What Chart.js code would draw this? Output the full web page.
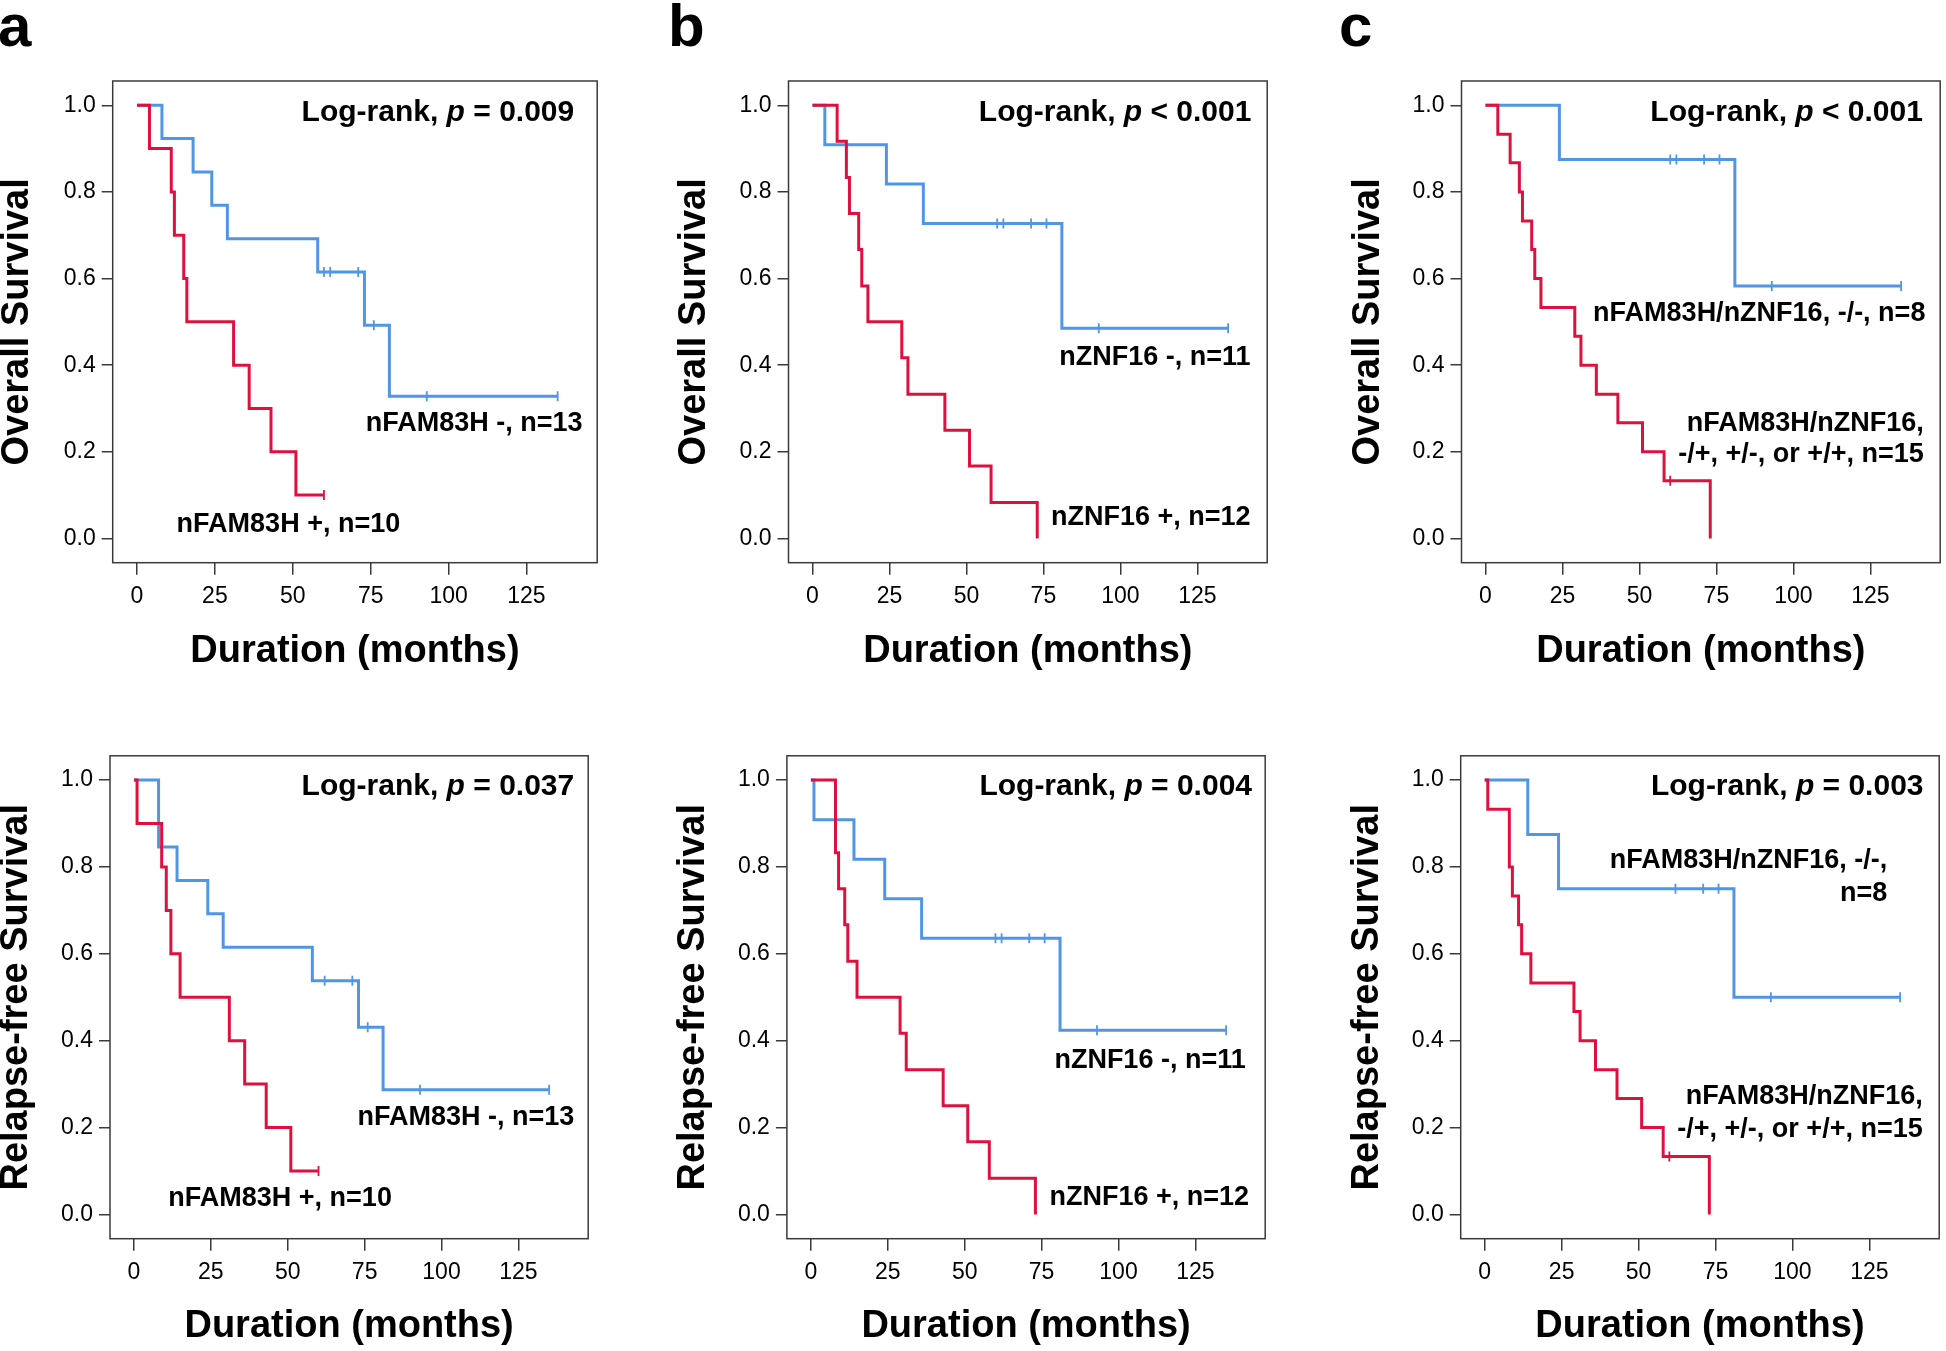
<!DOCTYPE html>
<html>
<head>
<meta charset="utf-8">
<script src="https://cdn.jsdelivr.net/npm/chart.js@4.4.1/dist/chart.umd.min.js"></script>
<style>
  html, body { margin: 0; padding: 0; background: #fff; overflow: hidden; }
  body { width: 1946px; height: 1351px; position: relative; }
  canvas { position: absolute; }
  .tag { position: absolute; font: bold 60px 'Liberation Sans', Arial, sans-serif; line-height: 60px; color: #000; }
</style>
</head>
<body>
<div class="tag" style="left:-2px;top:-4px">a</div>
<div class="tag" style="left:668px;top:-4px">b</div>
<div class="tag" style="left:1339px;top:-4px">c</div>
<script>
// axis ticks
const xTicks = [0, 25, 50, 75, 100, 125];
const yTicks = [0, 0.2, 0.4, 0.6, 0.8, 1.0];

// a, overall survival (nFAM83H)
const osFamNegT = [0, 8, 18, 24, 29, 58, 73, 81, 135];
const osFamNegS = [1, 0.923, 0.846, 0.769, 0.692, 0.615, 0.492, 0.328, 0.328];
const osFamNegCensT = [60, 62, 71, 76, 93, 135];
const osFamNegCensS = [0.615, 0.615, 0.615, 0.492, 0.328, 0.328];
const osFamPosT = [0, 4, 11, 12, 15, 16, 31, 36, 43, 51, 60];
const osFamPosS = [1, 0.9, 0.8, 0.7, 0.6, 0.5, 0.4, 0.3, 0.2, 0.1, 0.1];
const osFamPosCensT = [60];
const osFamPosCensS = [0.1];

// b, overall survival (nZNF16)
const osZnfNegT = [0, 4, 24, 36, 81, 135];
const osZnfNegS = [1, 0.909, 0.818, 0.727, 0.485, 0.485];
const osZnfNegCensT = [60, 62, 71, 76, 93, 135];
const osZnfNegCensS = [0.727, 0.727, 0.727, 0.727, 0.485, 0.485];
const osZnfPosT = [0, 8, 11, 12, 15, 16, 18, 29, 31, 43, 51, 58, 73];
const osZnfPosS = [1, 0.917, 0.833, 0.75, 0.667, 0.583, 0.5, 0.417, 0.333, 0.25, 0.167, 0.083, 0];
const osZnfPosCensT = [];
const osZnfPosCensS = [];

// c, overall survival (combined)
const osComNegT = [0, 24, 81, 135];
const osComNegS = [1, 0.875, 0.583, 0.583];
const osComNegCensT = [60, 62, 71, 76, 93, 135];
const osComNegCensS = [0.875, 0.875, 0.875, 0.875, 0.583, 0.583];
const osComPosT = [0, 4, 8, 11, 12, 15, 16, 18, 29, 31, 36, 43, 51, 58, 73];
const osComPosS = [1, 0.933, 0.867, 0.8, 0.733, 0.667, 0.6, 0.533, 0.467, 0.4, 0.333, 0.267, 0.2, 0.133, 0];
const osComPosCensT = [60];
const osComPosCensS = [0.133];

// a, relapse-free survival (nFAM83H)
const rfsFamNegT = [0, 8, 14, 24, 29, 58, 73, 81, 135];
const rfsFamNegS = [1, 0.846, 0.769, 0.692, 0.615, 0.538, 0.431, 0.287, 0.287];
const rfsFamNegCensT = [62, 71, 76, 93, 135];
const rfsFamNegCensS = [0.538, 0.538, 0.431, 0.287, 0.287];
const rfsFamPosT = [0, 1, 9, 10.5, 12, 15, 31, 36, 43, 51, 60];
const rfsFamPosS = [1, 0.9, 0.8, 0.7, 0.6, 0.5, 0.4, 0.3, 0.2, 0.1, 0.1];
const rfsFamPosCensT = [60];
const rfsFamPosCensS = [0.1];

// b, relapse-free survival (nZNF16)
const rfsZnfNegT = [0, 1, 14, 24, 36, 81, 135];
const rfsZnfNegS = [1, 0.909, 0.818, 0.727, 0.636, 0.424, 0.424];
const rfsZnfNegCensT = [60, 62, 71, 76, 93, 135];
const rfsZnfNegCensS = [0.636, 0.636, 0.636, 0.636, 0.424, 0.424];
const rfsZnfPosT = [0, 8, 9, 11, 12, 15, 29, 31, 43, 51, 58, 73];
const rfsZnfPosS = [1, 0.833, 0.75, 0.667, 0.583, 0.5, 0.417, 0.333, 0.25, 0.167, 0.083, 0];
const rfsZnfPosCensT = [];
const rfsZnfPosCensS = [];

// c, relapse-free survival (combined)
const rfsComNegT = [0, 14, 24, 81, 135];
const rfsComNegS = [1, 0.875, 0.75, 0.5, 0.5];
const rfsComNegCensT = [62, 71, 76, 93, 135];
const rfsComNegCensS = [0.75, 0.75, 0.75, 0.5, 0.5];
const rfsComPosT = [0, 1, 8, 9, 11, 12, 15, 29, 31, 36, 43, 51, 58, 73];
const rfsComPosS = [1, 0.933, 0.8, 0.733, 0.667, 0.6, 0.533, 0.467, 0.4, 0.333, 0.267, 0.2, 0.133, 0];
const rfsComPosCensT = [60];
const rfsComPosCensS = [0.133];

const FONT = "'Liberation Sans', Arial, sans-serif";
const BLUE = '#5096e6';
const RED = '#e0103e';
const FRAME = '#3a3a3a';
const TITLE_SIZE = 38;

function pts(t, s) {
    return t.map((v, i) => ({ x: v, y: s[i] }));
}

function pText(val) {
    return [["Log-rank, ", false], ["p", true], [" " + val, false]];
}

// box = [left, top, right, bottom] of the plot frame in page pixels
const panels = [
    {
        box: [112.7, 81, 600, 562.7], yTitleX: 17.5, xTitleY: 651.7, yTitle: "Overall Survival",
        neg: [osFamNegT, osFamNegS], negC: [osFamNegCensT, osFamNegCensS],
        pos: [osFamPosT, osFamPosS], posC: [osFamPosCensT, osFamPosCensS],
        texts: [
            { parts: pText("= 0.009"), size: 30, dx: -23, dy: 40 },
            { parts: [["nFAM83H -, n=13", false]], size: 27, dx: -14.6, dy: 350.4 },
            { parts: [["nFAM83H +, n=10", false]], size: 27, dx: -197, dy: 450.6 }
        ]
    },
    {
        box: [788.5, 81, 1269.5, 562.7], yTitleX: 695, xTitleY: 651.7, yTitle: "Overall Survival",
        neg: [osZnfNegT, osZnfNegS], negC: [osZnfNegCensT, osZnfNegCensS],
        pos: [osZnfPosT, osZnfPosS], posC: [osZnfPosCensT, osZnfPosCensS],
        texts: [
            { parts: pText("< 0.001"), size: 30, dx: -15.8, dy: 40 },
            { parts: [["nZNF16 -, n=11", false]], size: 27, dx: -16.6, dy: 283.5 },
            { parts: [["nZNF16 +, n=12", false]], size: 27, dx: -16.6, dy: 444.2 }
        ]
    },
    {
        box: [1461.5, 81, 1942.8, 562.7], yTitleX: 1369, xTitleY: 651.7, yTitle: "Overall Survival",
        neg: [osComNegT, osComNegS], negC: [osComNegCensT, osComNegCensS],
        pos: [osComPosT, osComPosS], posC: [osComPosCensT, osComPosCensS],
        texts: [
            { parts: pText("< 0.001"), size: 30, dx: -17.3, dy: 40 },
            { parts: [["nFAM83H/nZNF16, -/-, n=8", false]], size: 27, dx: -14.8, dy: 239.6 },
            { parts: [["nFAM83H/nZNF16,", false]], size: 27, dx: -16.5, dy: 349.6 },
            { parts: [["-/+, +/-, or +/+, n=15", false]], size: 27, dx: -16.5, dy: 381.1 }
        ]
    },
    {
        box: [110, 755.7, 591, 1238.7], yTitleX: 16.5, xTitleY: 1327, yTitle: "Relapse-free Survival",
        neg: [rfsFamNegT, rfsFamNegS], negC: [rfsFamNegCensT, rfsFamNegCensS],
        pos: [rfsFamPosT, rfsFamPosS], posC: [rfsFamPosCensT, rfsFamPosCensS],
        texts: [
            { parts: pText("= 0.037"), size: 30, dx: -14, dy: 39.5 },
            { parts: [["nFAM83H -, n=13", false]], size: 27, dx: -14, dy: 369.3 },
            { parts: [["nFAM83H +, n=10", false]], size: 27, dx: -196.3, dy: 450 }
        ]
    },
    {
        box: [786.9, 755.7, 1268.2, 1238.7], yTitleX: 694, xTitleY: 1327, yTitle: "Relapse-free Survival",
        neg: [rfsZnfNegT, rfsZnfNegS], negC: [rfsZnfNegCensT, rfsZnfNegCensS],
        pos: [rfsZnfPosT, rfsZnfPosS], posC: [rfsZnfPosCensT, rfsZnfPosCensS],
        texts: [
            { parts: pText("= 0.004"), size: 30, dx: -13.2, dy: 39.5 },
            { parts: [["nZNF16 -, n=11", false]], size: 27, dx: -19.5, dy: 312.6 },
            { parts: [["nZNF16 +, n=12", false]], size: 27, dx: -16.2, dy: 449.1 }
        ]
    },
    {
        box: [1460.7, 755.7, 1942, 1238.7], yTitleX: 1367.5, xTitleY: 1327, yTitle: "Relapse-free Survival",
        neg: [rfsComNegT, rfsComNegS], negC: [rfsComNegCensT, rfsComNegCensS],
        pos: [rfsComPosT, rfsComPosS], posC: [rfsComPosCensT, rfsComPosCensS],
        texts: [
            { parts: pText("= 0.003"), size: 30, dx: -15.7, dy: 39.5 },
            { parts: [["nFAM83H/nZNF16, -/-,", false]], size: 27, dx: -52, dy: 112.5 },
            { parts: [["n=8", false]], size: 27, dx: -52, dy: 145.1 },
            { parts: [["nFAM83H/nZNF16,", false]], size: 27, dx: -16.5, dy: 348.6 },
            { parts: [["-/+, +/-, or +/+, n=15", false]], size: 27, dx: -16.5, dy: 381.3 }
        ]
    }
];

// frame around the plot area + bold labels inside it
const annotate = {
    id: "annotate",
    beforeDatasetsDraw(chart) {
        const { ctx, chartArea: a } = chart;
        ctx.save();
        ctx.strokeStyle = FRAME;
        ctx.lineWidth = 1.5;
        ctx.strokeRect(a.left, a.top, a.width, a.height);
        ctx.restore();
    },
    afterDraw(chart, args, opts) {
        const { ctx, chartArea: a } = chart;
        ctx.save();
        ctx.fillStyle = "#000";
        ctx.textBaseline = "alphabetic";
        ctx.textAlign = "left";
        (opts.texts || []).forEach(t => {
            const fonts = t.parts.map(p => (p[1] ? "italic " : "") + "bold " + t.size + "px " + FONT);
            let w = 0;
            t.parts.forEach((p, i) => {
                ctx.font = fonts[i];
                w += ctx.measureText(p[0]).width;
            });
            let x = a.right + t.dx - w;
            t.parts.forEach((p, i) => {
                ctx.font = fonts[i];
                ctx.fillText(p[0], x, a.top + t.dy);
                x += ctx.measureText(p[0]).width;
            });
        });
        ctx.restore();
    }
};

panels.forEach(p => {
    const [L, T, R, B] = p.box;
    const half = TITLE_SIZE / 2;
    const left = Math.round(p.yTitleX - half);
    const top = Math.round(T - 20);
    const width = Math.round(R + 4) - left;
    const height = Math.round(p.xTitleY + half) - top;

    const cv = document.createElement("canvas");
    cv.width = width;
    cv.height = height;
    cv.style.left = left + "px";
    cv.style.top = top + "px";
    cv.style.width = width + "px";
    cv.style.height = height + "px";
    document.body.appendChild(cv);

    const gridOpts = (len) => ({
        display: true, drawOnChartArea: false, drawTicks: true,
        tickLength: len, color: FRAME, lineWidth: 1.5
    });

    new Chart(cv, {
        type: "line",
        data: {
            datasets: [
                { data: pts(p.pos[0], p.pos[1]), borderColor: RED, borderWidth: 3, stepped: "before", pointRadius: 0, fill: false },
                { data: pts(p.posC[0], p.posC[1]), showLine: false, pointStyle: "line", pointRotation: 90, pointRadius: 5, pointBorderColor: RED, pointBorderWidth: 1.8 },
                { data: pts(p.neg[0], p.neg[1]), borderColor: BLUE, borderWidth: 3, stepped: "before", pointRadius: 0, fill: false },
                { data: pts(p.negC[0], p.negC[1]), showLine: false, pointStyle: "line", pointRotation: 90, pointRadius: 5, pointBorderColor: BLUE, pointBorderWidth: 1.8 }
            ]
        },
        options: {
            responsive: false,
            animation: false,
            devicePixelRatio: 1,
            events: [],
            layout: { padding: { top: T - top, right: left + width - R, bottom: 0, left: 0 } },
            plugins: {
                legend: { display: false },
                tooltip: { enabled: false },
                annotate: { texts: p.texts }
            },
            scales: {
                x: {
                    type: "linear",
                    min: -7.8,
                    max: 147.7,
                    afterBuildTicks: s => { s.ticks = xTicks.map(v => ({ value: v })); },
                    afterFit: s => { s.height = top + height - B; },
                    grid: gridOpts(12),
                    border: { display: false },
                    ticks: { font: { family: FONT, size: 23 }, color: "#000", padding: 8.5, maxRotation: 0, autoSkip: false },
                    title: { display: true, text: "Duration (months)", color: "#000", padding: 0,
                             font: { family: FONT, size: TITLE_SIZE, weight: "bold", lineHeight: 1 } }
                },
                y: {
                    type: "linear",
                    min: -0.056,
                    max: 1.056,
                    afterBuildTicks: s => { s.ticks = yTicks.map(v => ({ value: v })); },
                    afterFit: s => { s.width = L - left; },
                    grid: gridOpts(11),
                    border: { display: false },
                    ticks: { font: { family: FONT, size: 23 }, color: "#000", padding: 6,
                             callback: v => Number(v).toFixed(1) },
                    title: { display: true, text: p.yTitle, color: "#000", padding: 0,
                             font: { family: FONT, size: TITLE_SIZE, weight: "bold", lineHeight: 1 } }
                }
            }
        },
        plugins: [annotate]
    });
});
</script>
</body>
</html>
